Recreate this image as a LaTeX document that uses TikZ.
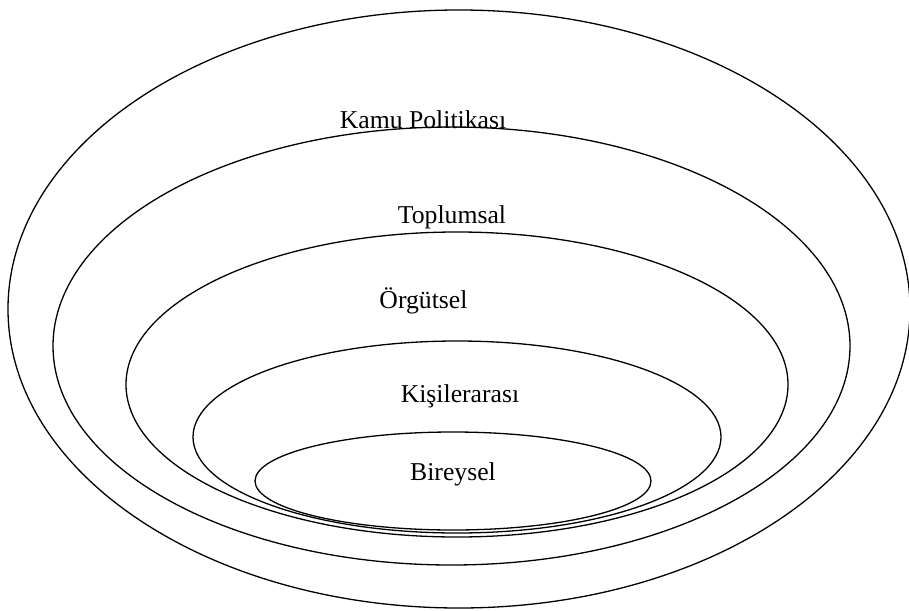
\documentclass[tikz,border=0pt]{standalone}
\usepackage{fontspec}
\setmainfont{Liberation Serif}
\begin{document}
\begin{tikzpicture}[x=1pt,y=-1pt,
  ring/.style={draw=black,line width=1.3pt},
  lbl/.style={anchor=base,inner sep=0pt,font=\fontsize{25.7}{30}\selectfont}]
\useasboundingbox (0,0) rectangle (909,610);
\begin{scope}
\clip (0,0) rectangle (909,610);
\draw[ring] (459,309) ellipse [x radius=451pt, y radius=299pt];
\draw[ring] (451.5,346) ellipse [x radius=398.5pt, y radius=219pt];
\draw[ring] (457,384.5) ellipse [x radius=331pt, y radius=152.5pt];
\draw[ring] (457,437) ellipse [x radius=264pt, y radius=96pt];
\draw[ring] (453,481) ellipse [x radius=198pt, y radius=49pt];
\end{scope}
\node[lbl] (kamu) at (423,128) {Kamu Politikası};
\node[lbl] (toplum) at (452,223) {Toplumsal};
\node[lbl] (orgut) at (423.5,308) {Örgütsel};
\node[lbl] (kisi) at (460,402) {Kişilerarası};
\node[lbl] (birey) at (453,480) {Bireysel};
\end{tikzpicture}
\end{document}
